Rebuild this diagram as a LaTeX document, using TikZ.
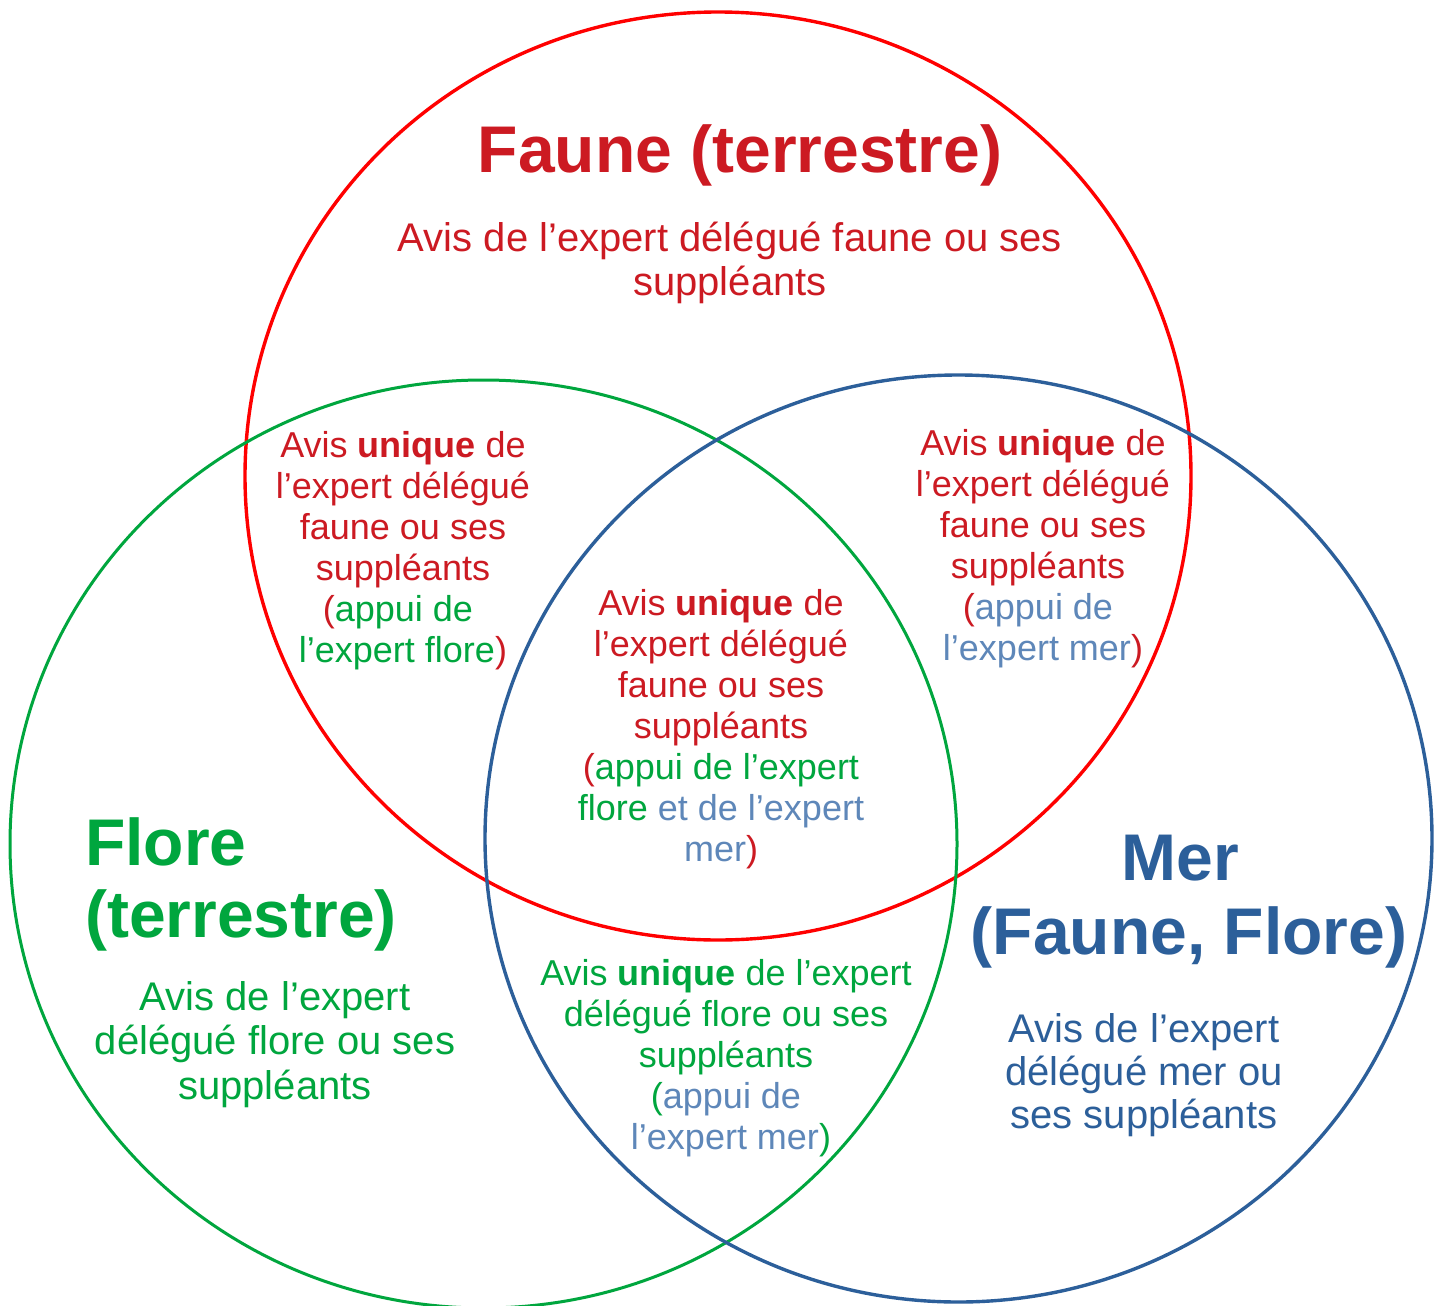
\documentclass[tikz,border=0pt]{standalone}
\usepackage{fontspec}
\setmainfont{Liberation Sans}
\definecolor{rtxt}{RGB}{204,26,34}
\definecolor{rline}{RGB}{255,0,0}
\definecolor{gc}{RGB}{0,166,62}
\definecolor{bc}{RGB}{44,95,154}
\definecolor{lb}{RGB}{94,135,185}
\newcommand{\ts}{\rule{0pt}{1em}}
\newcommand{\tsp}{\hspace*{0.278em}}
\tikzset{
  ring/.style={line width=3.4pt},
  small/.style={inner sep=0pt, align=center, anchor=north, font=\fontsize{36}{41}\selectfont},
  body/.style={inner sep=0pt, align=center, anchor=north, font=\fontsize{40}{44.5}\selectfont},
  title/.style={inner sep=0pt, anchor=north, font=\fontsize{66}{73}\selectfont\bfseries},
}
\begin{document}
\begin{tikzpicture}[x=1pt,y=-1pt]
\useasboundingbox[fill=white] (0,0) rectangle (1443,1306);
% circles
\draw[ring, rline] (718,476) ellipse [x radius=473pt, y radius=464pt];
\draw[ring, gc, line width=3pt] (483.5,844) ellipse [x radius=473.5pt, y radius=464pt];
\draw[ring, bc] (958.5,838.5) ellipse [x radius=473.5pt, y radius=463.5pt];

% Faune title and body
\node[title, text=rtxt] (fauneT) at (740,106) {\ts Faune (terrestre)};
\node[body, text=rtxt] (fauneB) at (730,211) {\ts Avis de l’expert délégué faune ou ses\\suppléants};

% red-green intersection
\node[small] (rg) at (403,421) {%
\color{rtxt}\ts Avis \textbf{unique} de\\
\color{rtxt}l’expert délégué\\
\color{rtxt}faune ou ses\\
\color{rtxt}suppléants\\
\color{rtxt}(\color{gc}appui de\tsp\\
\color{gc}l’expert flore\color{rtxt})};

% red-blue intersection
\node[small] (rb) at (1043,419) {%
\color{rtxt}\ts Avis \textbf{unique} de\\
\color{rtxt}l’expert délégué\\
\color{rtxt}faune ou ses\\
\color{rtxt}suppléants\tsp\\
\color{rtxt}(\color{lb}appui de\tsp\\
\color{lb}l’expert mer\color{rtxt})};

% centre
\node[small] (rgb) at (721,579) {%
\color{rtxt}\ts Avis \textbf{unique} de\\
\color{rtxt}l’expert délégué\\
\color{rtxt}faune ou ses\\
\color{rtxt}suppléants\\
\color{rtxt}(\color{gc}appui de l’expert\\
\color{gc}flore \color{lb}et de l’expert\\
\color{lb}mer\color{rtxt})};

% green-blue intersection
\node[small] (gb) at (726,949) {%
\color{gc}\ts Avis \textbf{unique} de l’expert\\
\color{gc}délégué flore ou ses\\
\color{gc}suppléants\\
\color{gc}(\color{lb}appui de\\
\color{lb}\tsp l’expert mer\color{gc})};

% Flore
\node[title, text=gc, anchor=north west, align=left, font=\fontsize{66}{72}\selectfont\bfseries] (floreT) at (85,799) {\ts Flore\\(terrestre)};
\node[body, text=gc] (floreB) at (275,970) {\ts Avis de l’expert\\délégué flore ou ses\\suppléants};

% Mer
\node[title, text=bc, align=center, font=\fontsize{66}{74}\selectfont\bfseries] (merT) at (1189,814) {\ts Mer\hspace*{17pt}\\(Faune, Flore)};
\node[body, text=bc, font=\fontsize{40}{43}\selectfont] (merB) at (1144,1002) {\ts Avis de l’expert\\délégué mer ou\\ses suppléants};
\end{tikzpicture}
\end{document}
